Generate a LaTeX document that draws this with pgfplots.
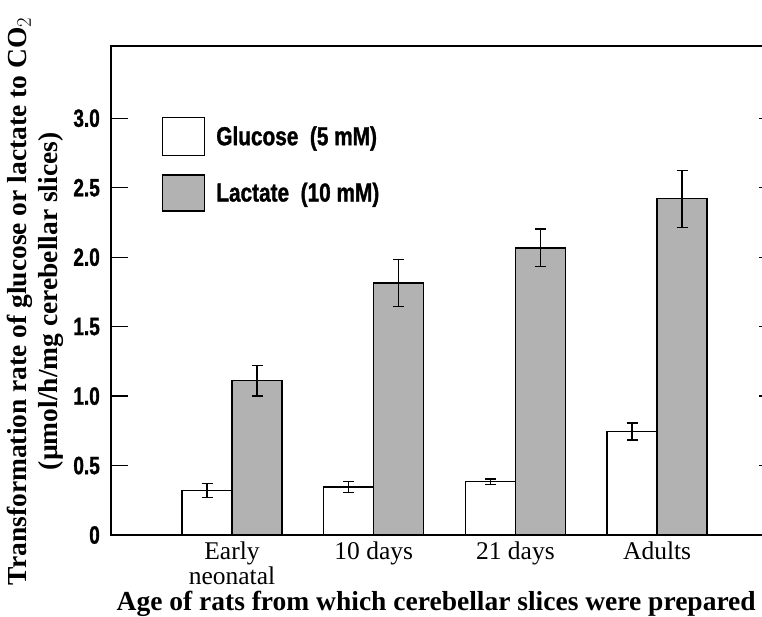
\documentclass[border=0pt]{standalone}
\usepackage{fontspec}
\setmainfont{Liberation Serif}
\newfontfamily\condfont[FakeStretch=0.76, FakeBold=1.2]{Liberation Sans}
\newfontfamily\legfont[FakeStretch=0.8, FakeBold=1.2]{Liberation Sans}
\usepackage{pgfplots}
\pgfplotsset{compat=1.18}
\definecolor{lactgray}{gray}{0.7}
\begin{document}
\begin{tikzpicture}
\begin{axis}[
  scale only axis, width=665pt, height=489pt,
  at={(0pt,0pt)}, anchor=south west,
  xmin=-0.854, xmax=3.839, ymin=0, ymax=3.52,
  ybar=0pt, bar width=50pt,
  xtick={0,1,2,3},
  xticklabels={{Early\\neonatal},{10 days},{21 days},{Adults}},
  xticklabel style={align=center, font=\fontsize{25.5}{19.5}\selectfont, inner sep=0pt, anchor=north, yshift=-7pt},
  x tick style={draw=none},
  ytick={0,0.5,1,1.5,2,2.5,3},
  yticklabels={0,0.5,1.0,1.5,2.0,2.5,3.0},
  yticklabel style={font=\condfont\bfseries\fontsize{25}{25}\selectfont, inner sep=0pt, anchor=east, xshift=-11pt},
  tick align=inside, major tick length=17pt,
  y tick style={line width=1.2pt, black},
  axis line style={line width=1.3pt},
  xlabel={Age of rats from which cerebellar slices were prepared},
  xlabel style={at={(axis description cs:0.489,-0.1145)}, anchor=north, inner sep=0pt, font=\bfseries\fontsize{27.5}{27.5}\selectfont},
  ylabel={Transformation rate of glucose or lactate to CO$_2$\\[5pt](µmol/h/mg cerebellar slices)},
  ylabel style={at={(axis description cs:-0.1143,0.478)}, anchor=center, align=center, inner sep=0pt, font=\bfseries\fontsize{27.5}{24}\selectfont},
  legend style={draw=none, fill=none, at={(axis description cs:0.0767,0.855)}, anchor=north west, inner sep=0pt, outer sep=0pt, row sep=18pt, column sep=11pt, nodes={inner sep=0pt, anchor=west}, font=\legfont\bfseries\fontsize{26}{26}\selectfont},
  legend cell align=left,
]
\addplot[draw=black, fill=white, line width=1.3pt,
  legend image code/.code={\draw[line width=1.3pt, fill=white] (0pt,-19pt) rectangle (42pt,19pt);},
  error bars/.cd, y dir=both, y explicit,
  error bar style={line width=1.3pt, black},
  error mark options={rotate=90, mark size=5.5pt, line width=1.3pt, black}]
coordinates {(0,0.32) +- (0,0.05) (1,0.345) +- (0,0.04) (2,0.383) +- (0,0.02) (3,0.745) +- (0,0.062)};
\addlegendentry{Glucose\ \ (5 mM)}
\addplot[draw=black, fill=lactgray, line width=1.3pt,
  legend image code/.code={\draw[line width=1.3pt, fill=lactgray] (0pt,-18pt) rectangle (42pt,18pt);},
  error bars/.cd, y dir=both, y explicit,
  error bar style={line width=1.3pt, black},
  error mark options={rotate=90, mark size=5.5pt, line width=1.3pt, black}]
coordinates {(0,1.11) +- (0,0.11) (1,1.815) +- (0,0.17) (2,2.067) +- (0,0.135) (3,2.42) +- (0,0.205)};
\addlegendentry{Lactate\ \ (10 mM)}
\end{axis}
\pgfresetboundingbox
\path (-111pt,-81pt) rectangle (651pt,535pt);
\end{tikzpicture}
\end{document}
